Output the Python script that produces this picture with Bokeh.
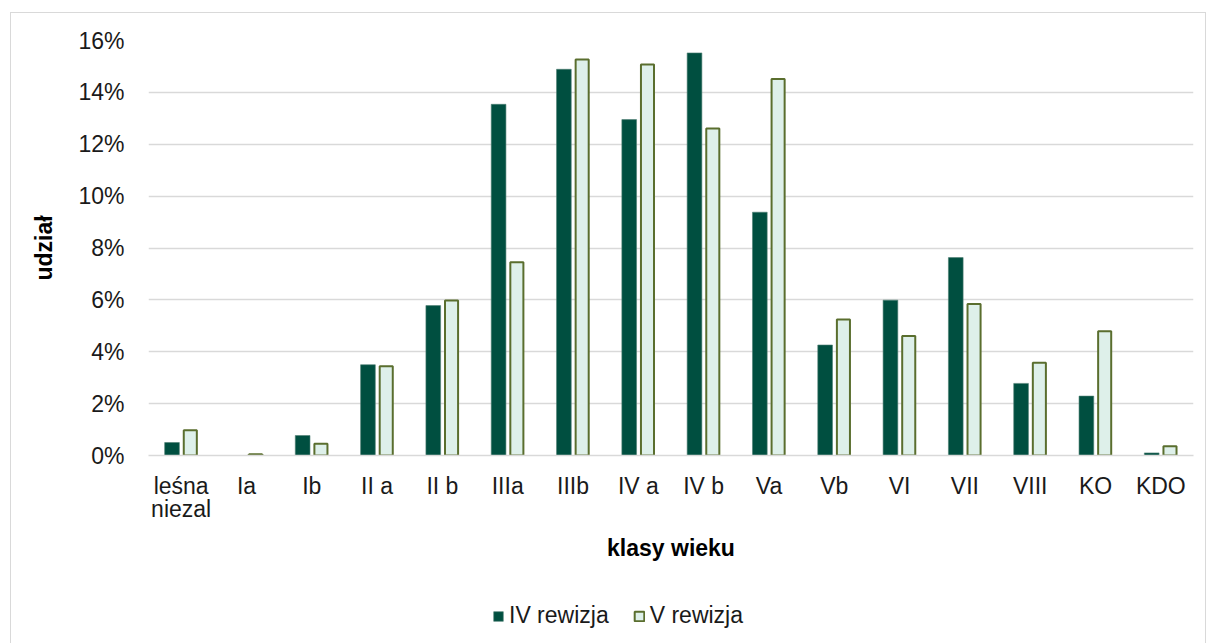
from bokeh.plotting import figure
from bokeh.layouts import column
from bokeh.models import ColumnDataSource, FactorRange, Range1d, FixedTicker, PrintfTickFormatter, Legend, LegendItem
from bokeh.transform import dodge
from bokeh.embed import file_html
from bokeh.resources import INLINE

categories = ["leśna\nniezal", "Ia", "Ib", "II a", "II b", "IIIa", "IIIb", "IV a", "IV b",
              "Va", "Vb", "VI", "VII", "VIII", "KO", "KDO"]
rewizja_iv = [0.50, 0.00, 0.77, 3.50, 5.78, 13.54, 14.89, 12.95, 15.52,
              9.38, 4.26, 5.99, 7.63, 2.78, 2.29, 0.10]
rewizja_v = [0.97, 0.05, 0.45, 3.44, 5.98, 7.45, 15.27, 15.07, 12.61,
             14.52, 5.24, 4.61, 5.84, 3.58, 4.79, 0.36]
y_ticks = [0, 2, 4, 6, 8, 10, 12, 14, 16]
series_names = ["IV rewizja", "V rewizja"]

src = ColumnDataSource(dict(cat=categories, iv=rewizja_iv, v=rewizja_v))

FONT = "Liberation Sans"
FS = "23px"
IV_STYLE = dict(fill_color="#004F40", line_color="#4d7d72", line_width=0.6)
V_STYLE = dict(fill_color="#DEF0EA", line_color="#5A6E2E", line_width=2)

p = figure(x_range=FactorRange(*categories), y_range=Range1d(0, 16),
           width=1194, height=575, output_backend="svg", toolbar_location=None,
           min_border_left=137, min_border_right=12, min_border_top=27, min_border_bottom=133)

p.vbar(x=dodge("cat", -0.14, range=p.x_range), top="iv", width=0.225, source=src, **IV_STYLE)
p.vbar(x=dodge("cat", 0.14, range=p.x_range), top="v", width=0.2, source=src, **V_STYLE)

p.outline_line_color = None
p.xgrid.grid_line_color = None
p.ygrid.grid_line_color = "#d9d9d9"
p.ygrid.grid_line_width = 1.5
p.yaxis.ticker = FixedTicker(ticks=y_ticks)
p.yaxis.formatter = PrintfTickFormatter(format="%d%%")
p.yaxis.axis_line_color = None
p.yaxis.major_tick_line_color = None
p.yaxis.minor_tick_line_color = None
p.yaxis.major_label_standoff = 18
p.yaxis.axis_label = "udział"
p.yaxis.axis_label_standoff = 18

p.xaxis.axis_line_color = "#d9d9d9"
p.xaxis.axis_line_width = 1.5
p.xaxis.major_tick_line_color = None
p.xaxis.minor_tick_line_color = None
p.xaxis.major_label_standoff = 11
p.xaxis.major_label_text_line_height = 0.9
p.xaxis.axis_label = "klasy wieku"
p.xaxis.axis_label_standoff = 10
p.x_range.range_padding = 0
p.x_range.group_padding = 0

for ax in (p.xaxis, p.yaxis):
    ax.major_label_text_font = FONT
    ax.major_label_text_font_size = FS
    ax.major_label_text_color = "#1a1a1a"
    ax.axis_label_text_font = FONT
    ax.axis_label_text_font_size = FS
    ax.axis_label_text_font_style = "bold"
    ax.axis_label_text_color = "#000000"

# legend strip: hidden copies of the series, only their legend entries show
lg = figure(width=1194, height=55, output_backend="svg", toolbar_location=None,
            x_range=FactorRange(*categories), y_range=Range1d(0, 16),
            x_axis_type=None, y_axis_type=None, min_border=0)
lg.outline_line_color = None
lg.xgrid.visible = False
lg.ygrid.visible = False
d_iv = lg.vbar(x="cat", top="iv", width=0.2, source=src, **IV_STYLE)
d_v = lg.vbar(x="cat", top="v", width=0.2, source=src, **V_STYLE)
d_iv.visible = False
d_v.visible = False

legend = Legend(items=[LegendItem(label=series_names[0], renderers=[d_iv]),
                       LegendItem(label=series_names[1], renderers=[d_v])],
                orientation="horizontal", location=(344, 14))
legend.label_text_font = FONT
legend.label_text_font_size = FS
legend.label_text_color = "#1a1a1a"
legend.glyph_width = 12
legend.glyph_height = 12
legend.label_standoff = 5
legend.spacing = 24
legend.padding = 0
legend.margin = 0
legend.border_line_color = None
legend.background_fill_alpha = 0
legend.inactive_fill_alpha = 0
lg.add_layout(legend, "center")

layout = column(p, lg, spacing=0)
layout.margin = (12, 0, 0, 10)
layout.styles = {"border": "1px solid #d9d9d9"}

open("out.html", "w").write(file_html(layout, INLINE))
